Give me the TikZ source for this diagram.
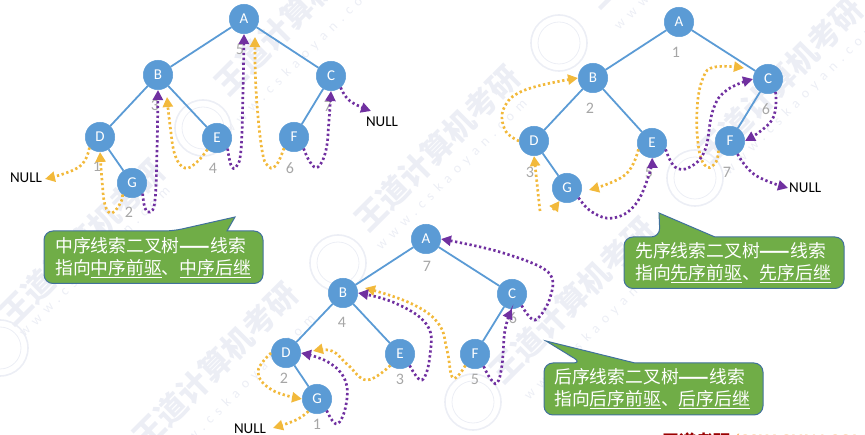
\documentclass[tikz,border=0pt]{standalone}
\usepackage{fontspec}
\setmainfont{Carlito}
\newfontfamily\cjk{Noto Sans CJK SC}
\newfontfamily\wmfont[LetterSpace=45]{Carlito}
\usetikzlibrary{arrows.meta}
\definecolor{nodeblue}{HTML}{5B9BD5}
\definecolor{threadorange}{HTML}{F2B93B}
\definecolor{threadpurple}{HTML}{7030A0}
\definecolor{calloutgreen}{HTML}{70AD47}
\definecolor{calloutline}{HTML}{41719C}
\definecolor{numgray}{HTML}{A6A6A6}
\definecolor{wmcolor}{HTML}{ECEEF5}
\tikzset{
  treenode/.style={circle,fill=nodeblue,draw=nodeblue,line width=0.5pt,minimum size=29.5pt,inner sep=0pt,text=white,font=\fontsize{15}{15}\selectfont},
  treeedge/.style={draw=nodeblue,line width=1.8pt},
  numlabel/.style={text=numgray,font=\fontsize{16}{16}\selectfont,inner sep=0pt},
  nulllabel/.style={text=black,font=\fontsize{15}{15}\selectfont,inner sep=1pt},
  thread/.style={line width=2.7pt,dash pattern=on 2.3pt off 2.6pt,-{Triangle[length=10pt,width=10pt]}},
  orangethread/.style={thread,draw=threadorange},
  purplethread/.style={thread,draw=threadpurple},
  callout/.style={fill=calloutgreen,draw=calloutline,line width=1pt},
  callouttext/.style={text=white,align=left,anchor=west,inner sep=0pt,font=\cjk\fontsize{17.8}{21.7}\selectfont},
  wmrun/.style={text=wmcolor,rotate=45,inner sep=0pt,font=\cjk\bfseries\fontsize{31}{31}\selectfont},
  wmurl/.style={text=wmcolor,rotate=45,inner sep=0pt,font=\wmfont\fontsize{14}{14}\selectfont},
  wmseal/.style={draw=wmcolor,line width=1.6pt,circle,minimum size=56pt,inner sep=0pt},
  wmsealin/.style={draw=wmcolor,line width=0.8pt,circle,minimum size=42pt,inner sep=0pt},
}
\begin{document}
\begin{tikzpicture}[x=1pt,y=-1pt]
\clip (0,0) rectangle (865,435);
% watermark
\foreach \n/\cx/\cy in {r1/297/12,r2/82/242,r3/215/365,r4/437/148,r5/572/300,r6/780/80,r7/668/-75}
  \node[wmrun] (wm\n) at (\cx,\cy) {王道计算机考研};
\foreach \n/\cx/\cy in {u1/300/60,u2/95/262,u3/240/390,u4/452/175,u5/600/325,u6/800/100,u7/690/-45}
  \node[wmurl] (wm\n) at (\cx,\cy) {www.cskaoyan.com};
\foreach \n/\cx/\cy in {s1/203/128,s2/559/43,s3/695/178,s4/338/263,s5/473/402,s6/0/348}{
  \node[wmseal] (wm\n) at (\cx,\cy) {};
  \node[wmsealin] (wmi\n) at (\cx,\cy) {};
}
\node[anchor=base west,inner sep=0pt,text=red!60!black,font=\cjk\bfseries\fontsize{17}{17}\selectfont] (brandcn) at (662,448) {王道考研};
\node[anchor=base west,inner sep=0pt,text=orange!60!white,font=\bfseries\fontsize{19}{19}\selectfont] (brandlat) at (731,448) {/CSKAOYAN.COM};

% ---------- tree 1: inorder
\node[numlabel] (t1n1) at (97,166) {1};
\node[numlabel] (t1n2) at (129,212) {2};
\node[numlabel] (t1n3) at (155,105) {3};
\node[numlabel] (t1n4) at (213,168) {4};
\node[numlabel] (t1n5) at (240,49) {5};
\node[numlabel] (t1n6) at (290,168) {6};
\node[numlabel] (t1n7) at (328,106) {7};
\node[treenode] (A1) at (244,19) {A};
\node[treenode] (B1) at (158,75) {B};
\node[treenode] (C1) at (331,76) {C};
\node[treenode] (D1) at (100,137) {D};
\node[treenode] (E1) at (217,138) {E};
\node[treenode] (F1) at (294,137) {F};
\node[treenode] (G1) at (132,183) {G};
\draw[treeedge] (A1)--(B1); \draw[treeedge] (A1)--(C1); \draw[treeedge] (B1)--(D1);
\draw[treeedge] (B1)--(E1); \draw[treeedge] (C1)--(F1); \draw[treeedge] (D1)--(G1);
\node[nulllabel] (null1L) at (26,178) {NULL};
\node[nulllabel] (null1C) at (382,122) {NULL};
\coordinate (t1free1) at (167,97);
\coordinate (t1free2) at (255,37);
\coordinate (t1free3) at (371,111);
\draw[orangethread] plot[smooth,tension=0.7] coordinates {(D1.225) (79,167) (45,179)};
\draw[orangethread] plot[smooth,tension=0.7] coordinates {(G1.230) (121,202) (112,213) (105,205) (102,180) (D1.south)};
\draw[purplethread] plot[smooth,tension=0.7] coordinates {(G1.-45) (145,208) (150,212) (155,200) (157,150) (B1.south)};
\draw[orangethread] plot[smooth,tension=0.7] coordinates {(E1.230) (197,162) (185,168) (175,155) (170,125) (t1free1)};
\draw[purplethread] plot[smooth,tension=0.7] coordinates {(E1.-45) (231,165) (236,167) (241,150) (243,90) (A1.south)};
\draw[orangethread] plot[smooth,tension=0.7] coordinates {(F1.228) (277,164) (269,167) (262,150) (256,90) (t1free2)};
\draw[purplethread] plot[smooth,tension=0.7] coordinates {(F1.-50) (310,162) (318,167) (326,150) (329,120) (C1.south)};
\draw[purplethread] plot[smooth,tension=0.7] coordinates {(C1.-50) (350,101) (t1free3)};

% ---------- tree 2: preorder
\node[numlabel] (t2n1) at (676,52) {1};
\node[numlabel] (t2n2) at (590,108) {2};
\node[numlabel] (t2n3) at (530,172) {3};
\node[numlabel] (t2n5) at (649,172) {5};
\node[numlabel] (t2n6) at (766,109) {6};
\node[numlabel] (t2n7) at (727,172) {7};
\node[treenode] (A2) at (679,22) {A};
\node[treenode] (B2) at (593,78) {B};
\node[treenode] (C2) at (768,79) {C};
\node[treenode] (D2) at (534,141) {D};
\node[treenode] (E2) at (652,143) {E};
\node[treenode] (F2) at (730,141) {F};
\node[treenode] (G2) at (567,188) {G};
\draw[treeedge] (A2)--(B2); \draw[treeedge] (A2)--(C2); \draw[treeedge] (B2)--(D2);
\draw[treeedge] (B2)--(E2); \draw[treeedge] (C2)--(F2); \draw[treeedge] (D2)--(G2);
\node[nulllabel,anchor=west] (null2) at (788,188) {NULL};
\coordinate (t2free1) at (540,211);
\coordinate (t2free2) at (553,210);
\coordinate (t2free3) at (589,190);
\coordinate (t2free4) at (744,68);
\draw[orangethread] plot[smooth,tension=0.7] coordinates {(D2.west) (505,130) (504,108) (525,90) (B2.west)};
\draw[orangethread] (t2free1) -- (D2.south);
\draw[orangethread] (t2free2) -- (G2.240);
\draw[orangethread] plot[smooth,tension=0.7] coordinates {(E2.205) (625,175) (t2free3)};
\draw[purplethread] plot[smooth,tension=0.7] coordinates {(G2.-40) (592,212) (613,218) (635,205) (649,175) (E2.south)};
\draw[orangethread] plot[smooth,tension=0.7] coordinates {(F2.220) (716,162) (707,167) (699,150) (697,110) (703,78) (715,67) (t2free4)};
\draw[purplethread] plot[smooth,tension=0.7] coordinates {(E2.-25) (675,167) (690,167) (705,150) (713,110) (727,90) (C2.west)};
\draw[purplethread] plot[smooth,tension=0.7] coordinates {(C2.-60) (772,120) (F2.east)};
\draw[purplethread] plot[smooth,tension=0.7] coordinates {(F2.-60) (755,175) (null2.west)};

% ---------- tree 3: postorder
\node[numlabel] (t3n1) at (317,424) {1};
\node[numlabel] (t3n2) at (284,378) {2};
\node[numlabel] (t3n3) at (400,379) {3};
\node[numlabel] (t3n4) at (342,322) {4};
\node[numlabel] (t3n5) at (475,379) {5};
\node[numlabel] (t3n6) at (513,318) {6};
\node[numlabel] (t3n7) at (427,266) {7};
\node[treenode] (A3) at (426,239) {A};
\node[treenode] (B3) at (343,293) {B};
\node[treenode] (C3) at (512,294) {C};
\node[treenode] (D3) at (286,353) {D};
\node[treenode] (E3) at (400,354) {E};
\node[treenode] (F3) at (475,354) {F};
\node[treenode] (G3) at (317,399) {G};
\draw[treeedge] (A3)--(B3); \draw[treeedge] (A3)--(C3); \draw[treeedge] (B3)--(D3);
\draw[treeedge] (B3)--(E3); \draw[treeedge] (C3)--(F3); \draw[treeedge] (D3)--(G3);
\node[nulllabel] (null3) at (250,429) {NULL};
\coordinate (t3free1) at (365,288);
\coordinate (t3free2) at (313,351);
\coordinate (t3free3) at (273,428);
\draw[purplethread] plot[smooth,tension=0.6] coordinates {(C3.-50) (535,320) (550,298) (548,272) (500,252) (A3.east)};
\draw[purplethread] plot[smooth,tension=0.7] coordinates {(F3.-55) (490,378) (497,383) (502,365) (505,330) (C3.south)};
\draw[orangethread] plot[smooth,tension=0.7] coordinates {(F3.230) (453,378) (447,350) (438,323) (410,303) (t3free1)};
\draw[purplethread] plot[smooth,tension=0.7] coordinates {(E3.-50) (422,380) (430,355) (427,325) (395,303) (B3.east)};
\draw[orangethread] plot[smooth,tension=0.7] coordinates {(E3.230) (367,380) (348,365) (332,351) (t3free2)};
\draw[purplethread] plot[smooth,tension=0.7] coordinates {(G3.-50) (337,424) (346,405) (345,380) (328,362) (D3.east)};
\draw[orangethread] plot[smooth,tension=0.7] coordinates {(D3.west) (258,372) (272,390) (G3.west)};
\draw[orangethread] plot[smooth,tension=0.7] coordinates {(G3.235) (296,420) (t3free3)};

% ---------- callouts
\draw[callout] (173,231) -- (235,217) -- (227,231) [rounded corners=9pt] -- (263,231) -- (263,283.5) -- (44,283.5) -- (44,231) -- cycle;
\node[callouttext] (note1) at (55,257.5) {中序线索二叉树{\bfseries ——}线索\\指向\underline{中序前驱}、\underline{中序后继}};
\draw[callout] (660,237) -- (659,213) -- (715,237) [rounded corners=9pt] -- (844,237) -- (844,288.5) -- (624,288.5) -- (624,237) -- cycle;
\node[callouttext] (note2) at (635,263) {先序线索二叉树{\bfseries ——}线索\\指向\underline{先序前驱}、\underline{先序后继}};
\draw[callout] (582,363) -- (546,341) -- (635,363) [rounded corners=9pt] -- (763,363) -- (763,415) -- (544,415) -- (544,363) -- cycle;
\node[callouttext] (note3) at (554,389) {后序线索二叉树{\bfseries ——}线索\\指向\underline{后序前驱}、\underline{后序后继}};
\end{tikzpicture}
\end{document}
